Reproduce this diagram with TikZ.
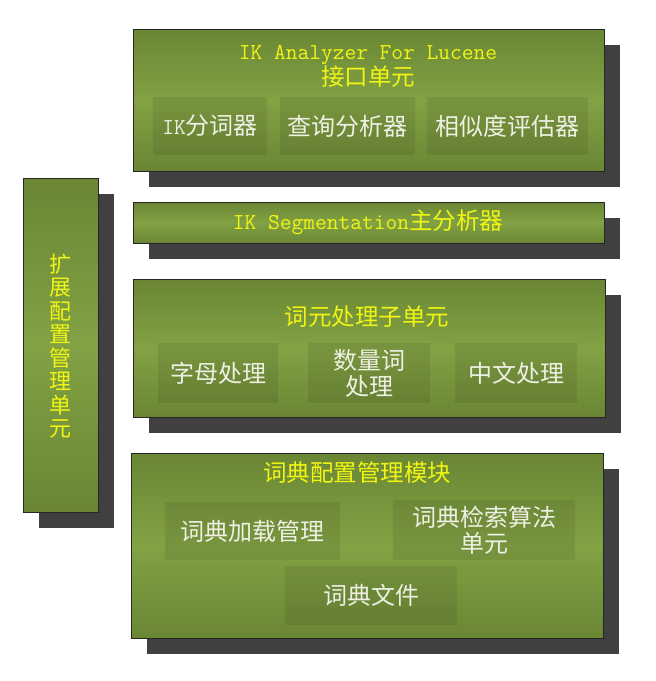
\documentclass[tikz,border=0pt]{standalone}
\usepackage{fontspec}
\usetikzlibrary{shadows}
\newfontfamily\cjk{Noto Sans CJK SC}
\definecolor{panelgreen}{RGB}{106,134,52}
\definecolor{panellight}{RGB}{130,162,68}
\definecolor{shadowgray}{RGB}{64,64,64}
\definecolor{titleyellow}{RGB}{240,245,20}
\definecolor{partwhite}{RGB}{238,240,228}
\tikzset{
  panel/.style={draw=black!85, line width=0.8pt, inner sep=0pt,
                top color=panelgreen, bottom color=panelgreen, middle color=panellight,
                drop shadow={shadow xshift=16pt, shadow yshift=-16pt, fill=shadowgray, opacity=1}},
  part/.style={fill=black, fill opacity=0.08, text opacity=1, inner sep=0pt,
               text=partwhite, align=center, font=\cjk\fontsize{24}{26}\selectfont},
  title/.style={text=titleyellow, align=center, inner sep=0pt,
                font=\cjk\fontsize{23.5}{26}\selectfont},
}
\newcommand{\lat}[1]{{\ttfamily\fontsize{22.8}{26}\selectfont #1}}
\begin{document}
\begin{tikzpicture}[x=1pt, y=-1pt]
  \useasboundingbox[fill=white] (0,0) rectangle (656,681);

  % panels
  \node[panel, minimum width=471pt, minimum height=142pt] (api) at (368.5,100) {};
  \node[panel, minimum width=471pt, minimum height=41pt] (seg) at (368.5,222.5) {};
  \node[panel, minimum width=472pt, minimum height=138pt] (token) at (369,348) {};
  \node[panel, minimum width=472pt, minimum height=185pt] (dict) at (367,545.5) {};
  \node[panel, minimum width=75pt, minimum height=334pt] (ext) at (60.5,345) {};

  % titles
  \node[title] (apititle) at (368,66) {\lat{IK Analyzer For Lucene}\\接口单元};
  \node[title] (segtitle) at (368,222) {\lat{IK Segmentation}主分析器};
  \node[title] (tokentitle) at (367,317) {词元处理子单元};
  \node[title] (dicttitle) at (357,473) {词典配置管理模块};
  \node[title, font=\cjk\fontsize{22}{23.5}\selectfont] (exttitle) at (60,346)
    {扩\\展\\配\\置\\管\\理\\单\\元};

  % parts
  \node[part, minimum width=114pt, minimum height=58pt] (ikseg) at (210,126) {\lat{IK}分词器};
  \node[part, minimum width=135pt, minimum height=58pt] (query) at (347.5,126) {查询分析器};
  \node[part, minimum width=161pt, minimum height=58pt] (simil) at (507.5,126) {相似度评估器};
  \node[part, minimum width=120pt, minimum height=60pt] (letter) at (218,373) {字母处理};
  \node[part, minimum width=122pt, minimum height=60pt] (quant) at (369,373) {数量词\\处理};
  \node[part, minimum width=122pt, minimum height=60pt] (cjkproc) at (516,373) {中文处理};
  \node[part, minimum width=175pt, minimum height=58pt] (dictload) at (252.5,531) {词典加载管理};
  \node[part, minimum width=182pt, minimum height=60pt] (dictsearch) at (484,530) {词典检索算法\\单元};
  \node[part, minimum width=172pt, minimum height=59pt] (dictfile) at (371,595.5) {词典文件};
\end{tikzpicture}
\end{document}
